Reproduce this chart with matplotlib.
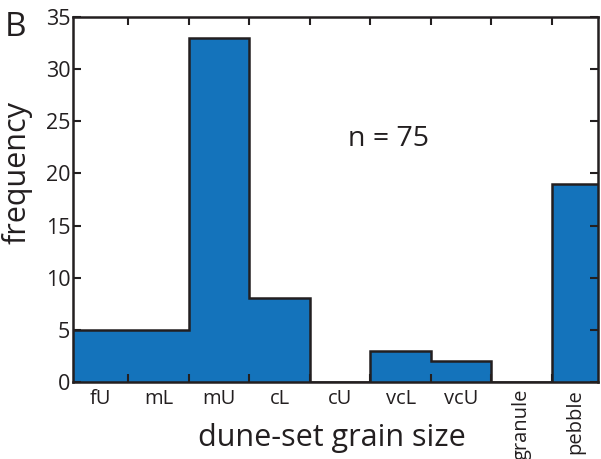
import numpy as np
import matplotlib
matplotlib.use("Agg")
import matplotlib.pyplot as plt

# grain size classes and counts
classes = ["fU", "mL", "mU", "cL", "cU", "vcL", "vcU", "granule", "pebble"]
counts = [5, 5, 33, 8, 0, 3, 2, 0, 19]
n_total = 75

plt.rcParams['font.family'] = ['Open Sans', 'DejaVu Sans']
bar_color = '#1473bb'
edge_color = '#231f20'

edges = np.arange(len(classes) + 1) + 0.5
xlim = (0.59, 9.26)

fig = plt.figure(figsize=(6.01, 4.59), dpi=100)
ax = fig.add_axes([0.1215, 0.168, 0.8735, 0.795])

ax.stairs(counts, edges, fill=True, color=bar_color, baseline=0)
ax.stairs(counts, edges, fill=False, color=edge_color, linewidth=1.8, baseline=0)

ax.set_xlim(*xlim)
ax.set_ylim(0, 35)
ax.set_yticks(np.arange(0, 36, 5))

# bin edges as ticks, labels at visible bin centres
ax.set_xticks(edges[1:-1])
ax.set_xticklabels([])
lo = np.clip(edges[:-1], *xlim)
hi = np.clip(edges[1:], *xlim)
ax.set_xticks((lo + hi) / 2, minor=True)
ax.set_xticklabels(classes, minor=True, fontsize=14.5, color=edge_color)
for lbl, name in zip(ax.get_xticklabels(minor=True), classes):
    if len(name) > 3:
        lbl.set_rotation(90)
        lbl.set_va('top')

ax.tick_params(axis='x', which='minor', length=0, pad=5)
ax.tick_params(axis='both', which='major', direction='in', length=6, width=1.5,
               top=True, right=True, labelsize=15.5, colors=edge_color, pad=2)
ax.tick_params(axis='x', which='major', labelbottom=False)
for sp in ax.spines.values():
    sp.set_linewidth(1.8)
    sp.set_color(edge_color)

ax.set_xlabel("dune-set grain size", fontsize=22, color=edge_color)
ax.xaxis.set_label_coords(0.493, -0.112)
ax.set_ylabel("frequency", fontsize=22, color=edge_color)
ax.yaxis.set_label_coords(-0.078, 0.575)
ax.text(5.8, 23.3, "n = %d" % n_total, fontsize=20.5, color=edge_color,
        ha='center', va='center')
fig.text(0.008, 0.975, "B", fontsize=24, color=edge_color, ha='left', va='top')

fig.savefig("out.png", dpi=100)
